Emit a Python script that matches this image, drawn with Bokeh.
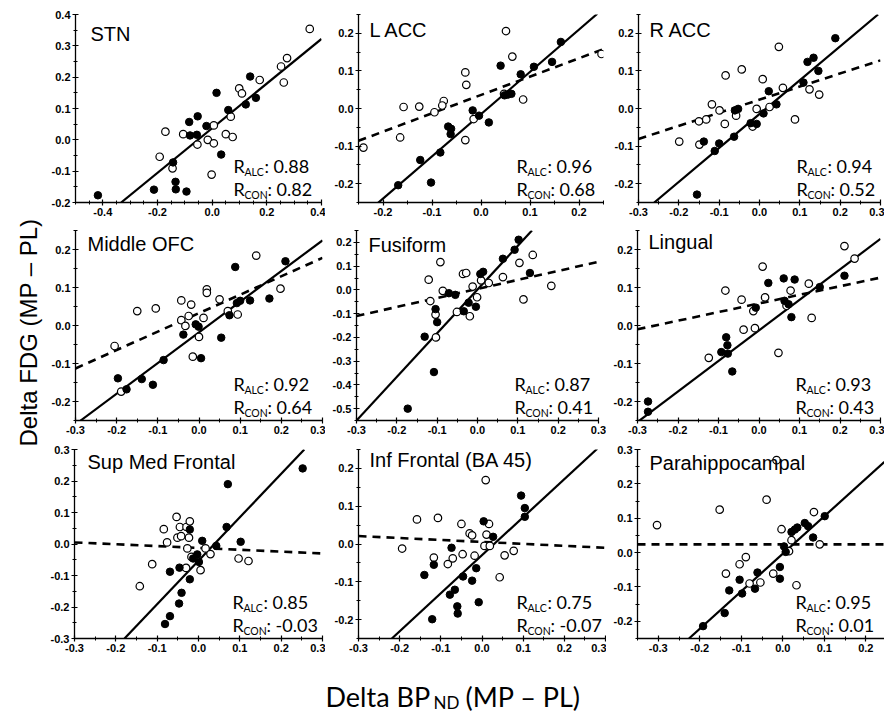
import math
from bokeh.plotting import figure
from bokeh.layouts import column, row
from bokeh.models import Range1d, FixedTicker, PrintfTickFormatter, Label
from bokeh.embed import file_html
from bokeh.resources import INLINE

# ---------------- data ----------------
names = ["STN", "L ACC", "R ACC", "Middle OFC", "Fusiform", "Lingual",
         "Sup Med Frontal", "Inf Frontal (BA 45)", "Parahippocampal"]
r_alc = ["0.88", "0.96", "0.94", "0.92", "0.87", "0.93", "0.85", "0.75", "0.95"]
r_con = ["0.82", "0.68", "0.52", "0.64", "0.41", "0.43", "-0.03", "-0.07", "0.01"]
y_label = "Delta FDG (MP \u2013 PL)"
x_label_parts = ["Delta BP", "ND", "(MP \u2013 PL)"]

# STN
stn_alc_x = [-0.418, -0.213, -0.143, -0.134, -0.133, -0.094, -0.084, -0.081, -0.053, -0.056, -0.021, 0.016, 0.033, 0.059, 0.123, 0.139, 0.160]
stn_alc_y = [-0.177, -0.159, -0.072, -0.134, -0.158, -0.165, 0.057, 0.014, 0.075, 0.016, 0.044, 0.150, -0.047, 0.095, 0.113, 0.202, 0.134]
stn_con_x = [-0.171, -0.192, -0.145, -0.106, -0.054, -0.016, 0.006, 0.006, -0.002, 0.050, 0.075, 0.068, 0.099, 0.109, 0.174, 0.252, 0.274, 0.262, 0.357]
stn_con_y = [0.026, -0.054, -0.091, 0.018, -0.015, 0.000, 0.046, -0.011, -0.111, 0.018, 0.009, 0.074, 0.164, 0.148, 0.191, 0.234, 0.261, 0.183, 0.354]
stn_fit_alc = ([-0.333, 0.40], [-0.20, 0.322])
stn_fit_con = None

# L ACC
lacc_alc_x = [-0.169, -0.124, -0.102, -0.083, -0.067, -0.061, -0.062, -0.017, -0.004, 0.016, 0.040, 0.048, 0.055, 0.062, 0.081, 0.108, 0.145, 0.163]
lacc_alc_y = [-0.204, -0.137, -0.197, -0.117, -0.048, -0.054, -0.068, -0.005, -0.019, -0.037, 0.114, 0.035, 0.037, 0.039, 0.091, 0.111, 0.124, 0.177]
lacc_con_x = [-0.240, -0.165, -0.158, -0.126, -0.095, -0.076, -0.079, -0.032, -0.030, -0.032, -0.015, 0.047, 0.051, 0.064, 0.086, 0.246]
lacc_con_y = [-0.104, -0.077, 0.004, 0.005, -0.010, 0.020, 0.008, 0.096, 0.063, -0.084, -0.028, 0.039, 0.206, 0.138, 0.024, 0.145]
lacc_fit_alc = ([-0.210, 0.2375], [-0.251, 0.252])
lacc_fit_con = ([-0.25, 0.25], [-0.086, 0.158])

# R ACC
racc_alc_x = [-0.155, -0.138, -0.111, -0.100, -0.063, -0.061, -0.053, -0.022, -0.007, 0.010, 0.023, 0.042, 0.119, 0.109, 0.134, 0.146, 0.188]
racc_alc_y = [-0.229, -0.088, -0.113, -0.093, -0.075, -0.005, -0.001, -0.039, -0.041, -0.013, 0.046, 0.011, 0.124, 0.069, 0.135, 0.100, 0.187]
racc_con_x = [-0.199, -0.150, -0.149, -0.132, -0.118, -0.099, -0.084, -0.086, -0.058, -0.044, -0.017, -0.007, 0.008, 0.025, 0.048, 0.058, 0.088, 0.124, 0.148]
racc_con_y = [-0.088, -0.034, -0.096, -0.029, 0.011, -0.005, 0.088, -0.041, -0.019, 0.104, -0.048, -0.001, 0.078, 0.004, 0.164, 0.055, -0.029, 0.051, 0.037]
racc_fit_alc = ([-0.261, 0.294], [-0.25, 0.25])
racc_fit_con = ([-0.30, 0.30], [-0.081, 0.128])

# Middle OFC
mofc_alc_x = [-0.197, -0.176, -0.139, -0.112, -0.086, -0.038, -0.008, -0.001, 0.005, 0.054, 0.074, 0.088, 0.092, 0.100, 0.124, 0.171, 0.210]
mofc_alc_y = [-0.139, -0.168, -0.141, -0.156, -0.091, -0.024, 0.003, -0.003, -0.086, -0.032, 0.027, 0.154, 0.059, 0.065, 0.066, 0.071, 0.169]
mofc_con_x = [-0.205, -0.189, -0.150, -0.105, -0.043, -0.043, -0.033, -0.025, -0.019, -0.015, 0.000, 0.011, 0.019, 0.019, 0.050, 0.070, 0.094, 0.139, 0.198]
mofc_con_y = [-0.054, -0.174, 0.038, 0.045, 0.066, 0.014, -0.001, 0.025, 0.055, -0.082, -0.030, 0.020, 0.095, 0.086, 0.069, 0.038, 0.029, 0.184, 0.097]
mofc_fit_alc = ([-0.290, 0.300], [-0.252, 0.224])
mofc_fit_con = ([-0.300, 0.300], [-0.113, 0.178])

# Fusiform
fus_alc_x = [-0.173, -0.108, -0.131, -0.100, -0.104, -0.071, -0.055, -0.034, -0.022, -0.004, 0.007, 0.014, 0.063, 0.092, 0.102, 0.130]
fus_alc_y = [-0.500, -0.346, -0.197, -0.136, -0.081, -0.014, -0.021, -0.090, -0.054, -0.071, 0.067, 0.076, 0.131, 0.169, 0.211, 0.071]
fus_con_x = [-0.121, -0.117, -0.104, -0.103, -0.092, -0.086, -0.051, -0.036, -0.028, -0.019, -0.012, -0.001, 0.009, 0.028, 0.063, 0.104, 0.114, 0.137, 0.183]
fus_con_y = [0.043, -0.047, -0.104, -0.200, 0.117, -0.004, -0.093, 0.067, 0.071, -0.111, 0.014, -0.031, 0.040, 0.029, 0.054, 0.114, -0.040, 0.147, 0.017]
fus_fit_alc = ([-0.300, 0.135], [-0.55, 0.25])
fus_fit_con = ([-0.300, 0.300], [-0.110, 0.118])

# Lingual
ling_alc_x = [-0.274, -0.274, -0.093, -0.081, -0.078, -0.077, -0.066, -0.008, 0.023, 0.061, 0.063, 0.073, 0.088, 0.080, 0.150, 0.211]
ling_alc_y = [-0.200, -0.227, -0.070, -0.031, -0.052, -0.074, -0.121, 0.047, 0.112, 0.124, 0.065, 0.056, 0.121, 0.022, 0.101, 0.131]
ling_con_x = [-0.124, -0.083, -0.043, -0.038, -0.014, -0.010, 0.009, 0.015, 0.048, 0.068, 0.078, 0.123, 0.130, 0.211, 0.236]
ling_con_y = [-0.085, 0.092, 0.068, -0.011, 0.038, -0.007, 0.155, 0.074, -0.072, 0.052, 0.092, 0.110, 0.020, 0.209, 0.176]
ling_fit_alc = ([-0.300, 0.300], [-0.254, 0.228])
ling_fit_con = ([-0.300, 0.300], [-0.010, 0.126])

# Sup Med Frontal
smf_alc_x = [-0.081, -0.069, -0.069, -0.047, -0.041, -0.046, -0.021, -0.021, -0.013, -0.003, 0.001, 0.009, 0.043, 0.068, 0.071, 0.102, 0.252]
smf_alc_y = [-0.254, -0.229, -0.088, -0.189, -0.155, -0.075, 0.046, -0.112, -0.046, -0.033, -0.057, 0.010, -0.006, 0.054, 0.190, 0.007, 0.240]
smf_con_x = [-0.142, -0.112, -0.084, -0.076, -0.053, -0.051, -0.045, -0.042, -0.029, -0.023, -0.021, -0.027, -0.030, -0.017, 0.005, 0.017, 0.029, 0.097, 0.121]
smf_con_y = [-0.134, -0.064, 0.047, 0.005, 0.086, 0.020, 0.054, 0.025, 0.054, 0.020, 0.072, -0.014, -0.076, -0.041, -0.083, -0.014, -0.032, -0.046, -0.054]
smf_fit_alc = ([-0.179, 0.256], [-0.30, 0.30])
smf_fit_con = ([-0.30, 0.30], [0.005, -0.030])

# Inf Frontal (BA 45)
ifr_alc_x = [-0.140, -0.117, -0.121, -0.078, -0.074, -0.066, -0.060, -0.059, -0.046, -0.024, -0.014, -0.008, 0.004, 0.027, 0.095, 0.104, 0.104]
ifr_alc_y = [-0.082, -0.055, -0.199, -0.134, -0.010, -0.121, -0.165, -0.184, -0.086, -0.097, -0.064, -0.154, 0.060, 0.019, 0.128, 0.095, 0.072]
ifr_con_x = [-0.194, -0.158, -0.117, -0.107, -0.083, -0.071, -0.050, -0.047, -0.030, -0.024, -0.018, 0.006, 0.009, 0.011, 0.017, 0.019, 0.043, 0.055, 0.077]
ifr_con_y = [-0.012, 0.065, -0.036, 0.069, -0.053, -0.038, 0.053, -0.027, 0.028, 0.023, -0.031, -0.005, 0.169, 0.025, 0.053, -0.005, -0.088, -0.030, -0.018]
ifr_fit_alc = ([-0.219, 0.280], [-0.25, 0.252])
ifr_fit_con = ([-0.300, 0.300], [0.021, -0.010])

# Parahippocampal
ph_alc_x = [-0.192, -0.140, -0.129, -0.104, -0.098, -0.067, -0.061, -0.007, -0.007, 0.003, 0.007, 0.021, 0.029, 0.035, 0.053, 0.061, 0.073, 0.101]
ph_alc_y = [-0.214, -0.176, -0.110, -0.079, -0.119, -0.105, -0.058, -0.042, -0.076, 0.018, 0.002, 0.060, 0.067, 0.073, 0.086, 0.077, 0.044, 0.106]
ph_con_x = [-0.303, -0.152, -0.137, -0.104, -0.089, -0.080, -0.054, -0.039, -0.023, -0.015, -0.003, 0.021, 0.015, 0.033, 0.075, 0.089]
ph_con_y = [0.080, 0.125, -0.061, -0.034, -0.013, -0.090, -0.087, 0.154, -0.061, 0.269, 0.068, 0.036, 0.004, -0.095, 0.118, 0.024]
ph_fit_alc = ([-0.226, 0.245], [-0.25, 0.264])
ph_fit_con = ([-0.35, 0.245], [0.024, 0.024])

# axis ranges and ticks
x_ranges = [(-0.5, 0.4), (-0.25, 0.25), (-0.3, 0.3), (-0.3, 0.3), (-0.3, 0.3), (-0.3, 0.3),
            (-0.3, 0.3), (-0.3, 0.3), (-0.35, 0.245)]
y_ranges = [(-0.2, 0.4), (-0.25, 0.25), (-0.25, 0.25), (-0.25, 0.25), (-0.55, 0.25), (-0.25, 0.25),
            (-0.3, 0.3), (-0.25, 0.25), (-0.25, 0.3)]
x_major = [[-0.4, -0.2, 0.0, 0.2, 0.4],
           [-0.2, -0.1, 0.0, 0.1, 0.2],
           [-0.3, -0.2, -0.1, 0.0, 0.1, 0.2, 0.3],
           [-0.3, -0.2, -0.1, 0.0, 0.1, 0.2, 0.3],
           [-0.3, -0.2, -0.1, 0.0, 0.1, 0.2, 0.3],
           [-0.3, -0.2, -0.1, 0.0, 0.1, 0.2, 0.3],
           [-0.3, -0.2, -0.1, 0.0, 0.1, 0.2, 0.3],
           [-0.3, -0.2, -0.1, 0.0, 0.1, 0.2, 0.3],
           [-0.3, -0.2, -0.1, 0.0, 0.1, 0.2]]
y_major = [[-0.2, -0.1, 0.0, 0.1, 0.2, 0.3, 0.4],
           [-0.2, -0.1, 0.0, 0.1, 0.2],
           [-0.2, -0.1, 0.0, 0.1, 0.2],
           [-0.2, -0.1, 0.0, 0.1, 0.2],
           [-0.5, -0.4, -0.3, -0.2, -0.1, 0.0, 0.1, 0.2],
           [-0.2, -0.1, 0.0, 0.1, 0.2],
           [-0.3, -0.2, -0.1, 0.0, 0.1, 0.2, 0.3],
           [-0.2, -0.1, 0.0, 0.1, 0.2],
           [-0.2, -0.1, 0.0, 0.1, 0.2, 0.3]]
minor_step = 0.05

alc_x = [stn_alc_x, lacc_alc_x, racc_alc_x, mofc_alc_x, fus_alc_x, ling_alc_x, smf_alc_x, ifr_alc_x, ph_alc_x]
alc_y = [stn_alc_y, lacc_alc_y, racc_alc_y, mofc_alc_y, fus_alc_y, ling_alc_y, smf_alc_y, ifr_alc_y, ph_alc_y]
con_x = [stn_con_x, lacc_con_x, racc_con_x, mofc_con_x, fus_con_x, ling_con_x, smf_con_x, ifr_con_x, ph_con_x]
con_y = [stn_con_y, lacc_con_y, racc_con_y, mofc_con_y, fus_con_y, ling_con_y, smf_con_y, ifr_con_y, ph_con_y]
fit_alc = [stn_fit_alc, lacc_fit_alc, racc_fit_alc, mofc_fit_alc, fus_fit_alc, ling_fit_alc, smf_fit_alc, ifr_fit_alc, ph_fit_alc]
fit_con = [stn_fit_con, lacc_fit_con, racc_fit_con, mofc_fit_con, fus_fit_con, ling_fit_con, smf_fit_con, ifr_fit_con, ph_fit_con]

# ---------------- layout geometry (pixels) ----------------
YLAB_W = 45
XLAB_H = 57
TOTAL_W = 884
# per panel: border left, frame width, border right
col_geom = [(30, 246, 4), (33, 245, 3), (32, 242, 4),
            (30, 247, 3), (31, 242, 8), (31, 243, 4),
            (29, 248, 3), (33, 247, 1), (31, 247, 0)]
# per row: border top, frame height, border bottom
row_geom = [(14, 188, 22), (6, 190, 20), (9, 189, 22)]
# title: x offset from frame left, baseline offset from frame top
title_pos = [(15, 19), (11, 15), (11, 15), (12, 13), (12, 14), (11, 11), (13, 12), (11, 10), (12, 13)]

TICK_FONT = "Liberation Sans"
R_FONT = "Lato"


def minor_ticks(lo, hi):
    n0 = int(round(lo / minor_step)) - 1
    n1 = int(round(hi / minor_step)) + 1
    return [round(k * minor_step, 3) for k in range(n0, n1 + 1)]


def make_panel(i):
    bl, fw, br = col_geom[i]
    bt, fh, bb = row_geom[i // 3]
    p = figure(width=bl + fw + br, height=bt + fh + bb,
               x_range=Range1d(*x_ranges[i]), y_range=Range1d(*y_ranges[i]),
               output_backend="svg", toolbar_location=None,
               min_border_left=bl, min_border_right=br,
               min_border_top=bt, min_border_bottom=bb)
    p.outline_line_color = None
    p.background_fill_color = "white"
    p.border_fill_color = "white"
    p.xgrid.visible = False
    p.ygrid.visible = False

    for ax, maj, rng in ((p.xaxis[0], x_major[i], x_ranges[i]), (p.yaxis[0], y_major[i], y_ranges[i])):
        ax.ticker = FixedTicker(ticks=maj, minor_ticks=minor_ticks(*rng))
        ax.formatter = PrintfTickFormatter(format="%.1f")
        ax.axis_line_color = "black"
        ax.axis_line_width = 1.3
        ax.major_tick_line_color = "black"
        ax.minor_tick_line_color = "black"
        ax.major_tick_line_width = 1.2
        ax.minor_tick_line_width = 1.0
        ax.major_tick_in = 3
        ax.major_tick_out = 3
        ax.minor_tick_in = 2
        ax.minor_tick_out = 2
        ax.major_label_text_font = TICK_FONT
        ax.major_label_text_font_size = "11px"
        ax.major_label_text_font_style = "bold"
        ax.major_label_text_color = "black"
        ax.major_label_standoff = 2

    fx, fy = fit_alc[i]
    p.line(fx, fy, line_color="black", line_width=2.2)
    if fit_con[i] is not None:
        cx, cy = fit_con[i]
        p.line(cx, cy, line_color="black", line_width=2.6, line_dash="8 6")

    p.scatter(con_x[i], con_y[i], marker="circle", size=7.5, fill_color="white",
              line_color="black", line_width=1.2)
    p.scatter(alc_x[i], alc_y[i], marker="circle", size=7.5, fill_color="black",
              line_color="black", line_width=1)

    tx, tb = title_pos[i]
    p.add_layout(Label(x=tx, y=fh - tb, x_units="screen", y_units="screen", text=names[i],
                       text_font=TICK_FONT, text_font_size="20px", text_color="black",
                       text_baseline="alphabetic", text_align="left"))

    rx = 158
    for (base, sub, val, off) in ((37, "ALC", r_alc[i], 31), (14, "CON", r_con[i], 34)):
        p.add_layout(Label(x=rx, y=base, x_units="screen", y_units="screen", text="R",
                           text_font=R_FONT, text_font_size="18px", text_color="black",
                           text_baseline="alphabetic", text_align="left"))
        p.add_layout(Label(x=rx + 11, y=base - 6, x_units="screen", y_units="screen", text=sub,
                           text_font=R_FONT, text_font_size="10.5px", text_color="black",
                           text_baseline="alphabetic", text_align="left"))
        p.add_layout(Label(x=rx + off, y=base, x_units="screen", y_units="screen", text=": " + val,
                           text_font=R_FONT, text_font_size="18px", text_color="black",
                           text_baseline="alphabetic", text_align="left"))
    return p


def text_canvas(w, h):
    f = figure(width=w, height=h, x_range=Range1d(0, w), y_range=Range1d(0, h),
               output_backend="svg", toolbar_location=None,
               x_axis_location=None, y_axis_location=None,
               min_border_left=0, min_border_right=0, min_border_top=0, min_border_bottom=0)
    f.outline_line_color = None
    f.xgrid.visible = False
    f.ygrid.visible = False
    f.background_fill_color = "white"
    f.border_fill_color = "white"
    return f


panels = [make_panel(i) for i in range(9)]
grid_h = sum(sum(g) for g in row_geom)

# y label column
ylab = text_canvas(YLAB_W, grid_h)
ylab.add_layout(Label(x=28, y=grid_h - 332, x_units="screen", y_units="screen", text=y_label,
                      angle=math.pi / 2, text_font="Liberation Sans", text_font_size="24px",
                      text_color="black", text_align="center", text_baseline="middle"))

# x label strip
xlab = text_canvas(TOTAL_W, XLAB_H)
for (xx, yy, txt, fs) in ((325, 21, x_label_parts[0], "27px"), (433, 15, x_label_parts[1], "17px"),
                          (465, 21, x_label_parts[2], "27px")):
    xlab.add_layout(Label(x=xx, y=yy, x_units="screen", y_units="screen", text=txt,
                          text_font=R_FONT, text_font_size=fs, text_color="black",
                          text_baseline="alphabetic", text_align="left"))

grid = column(row(*panels[0:3]), row(*panels[3:6]), row(*panels[6:9]))
layout = column(row(ylab, grid), xlab)

open("out.html", "w").write(file_html(layout, INLINE))
